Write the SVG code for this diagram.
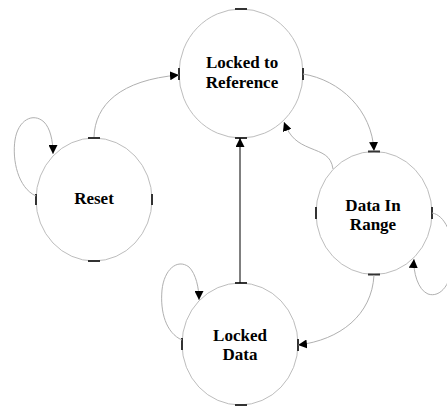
<svg xmlns="http://www.w3.org/2000/svg" width="447" height="407" viewBox="0 0 447 407">
<style>
.node{fill:#fff;stroke:#bdbdbd;stroke-width:1}
.tick{stroke:#333;stroke-width:2}
.lbl{font-family:"Liberation Serif","Times New Roman",serif;font-weight:bold;font-size:17px;fill:#000;text-anchor:middle}
.conn{fill:none;stroke:#b0b0b0;stroke-width:1}
.solid{fill:none;stroke:#000;stroke-width:1}
</style>
<defs>
<marker id="arr" viewBox="0 0 10 10" refX="10" refY="5" markerWidth="9" markerHeight="9" markerUnits="userSpaceOnUse" orient="auto">
<path d="M0,0 L10,5 L0,10 z" fill="#000"/>
</marker>
</defs>
<rect width="447" height="407" fill="#fff"/>
<g id="locked-to-reference">
<ellipse class="node" cx="241" cy="73.5" rx="62" ry="64.5"/>
<line class="tick" x1="235" y1="9" x2="247" y2="9"/>
<line class="tick" x1="235" y1="138" x2="247" y2="138"/>
<line class="tick" x1="179" y1="68" x2="179" y2="80"/>
<line class="tick" x1="303" y1="68" x2="303" y2="80"/>
<text class="lbl" x="242" y="68">Locked to</text>
<text class="lbl" x="242" y="88">Reference</text>
</g>
<g id="reset">
<ellipse class="node" cx="94" cy="199.5" rx="58" ry="61.5"/>
<line class="tick" x1="88" y1="138" x2="100" y2="138"/>
<line class="tick" x1="88" y1="261" x2="100" y2="261"/>
<line class="tick" x1="36" y1="194" x2="36" y2="205"/>
<line class="tick" x1="152" y1="194" x2="152" y2="205"/>
<text class="lbl" x="94" y="204">Reset</text>
</g>
<g id="data-in-range">
<ellipse class="node" cx="374" cy="213" rx="58" ry="61.5"/>
<line class="tick" x1="368" y1="151.5" x2="380" y2="151.5"/>
<line class="tick" x1="368" y1="274.5" x2="380" y2="274.5"/>
<line class="tick" x1="316" y1="207" x2="316" y2="219"/>
<line class="tick" x1="432" y1="207" x2="432" y2="219"/>
<text class="lbl" x="373" y="211">Data In</text>
<text class="lbl" x="373" y="230">Range</text>
</g>
<g id="locked-data">
<ellipse class="node" cx="240" cy="344" rx="58" ry="61"/>
<line class="tick" x1="235" y1="283" x2="247" y2="283"/>
<line class="tick" x1="235" y1="405" x2="247" y2="405"/>
<line class="tick" x1="182" y1="338" x2="182" y2="350"/>
<line class="tick" x1="298" y1="339" x2="298" y2="351"/>
<text class="lbl" x="240" y="341">Locked</text>
<text class="lbl" x="240" y="360">Data</text>
</g>
<g id="connectors">
<path class="conn" d="M94,137 C95,105 120,80 179,75" marker-end="url(#arr)"/>
<path class="conn" d="M36,196 C18,188 12,160 15,140 C18,120 33,112 44,122 C50,128 53,140 53,154" marker-end="url(#arr)"/>
<path class="conn" d="M303,74 C340,80 372,110 374,151" marker-end="url(#arr)"/>
<path class="conn" d="M333,169 C331,155 322,153 310,148 C298,143 290,138 284,122" marker-end="url(#arr)"/>
<path class="conn" d="M432,213 C445,215 453,235 453,255 C453,285 440,298 428,294 C418,290 413,272 414,259" marker-end="url(#arr)"/>
<path class="conn" d="M374,275 C372,315 340,340 298,345" marker-end="url(#arr)"/>
<path class="solid" d="M240,283 L240,138" marker-end="url(#arr)"/>
<path class="conn" d="M182,340 C166,333 160,312 162,290 C164,270 177,258 189,267 C196,274 199,288 199,300" marker-end="url(#arr)"/>
</g>
</svg>
